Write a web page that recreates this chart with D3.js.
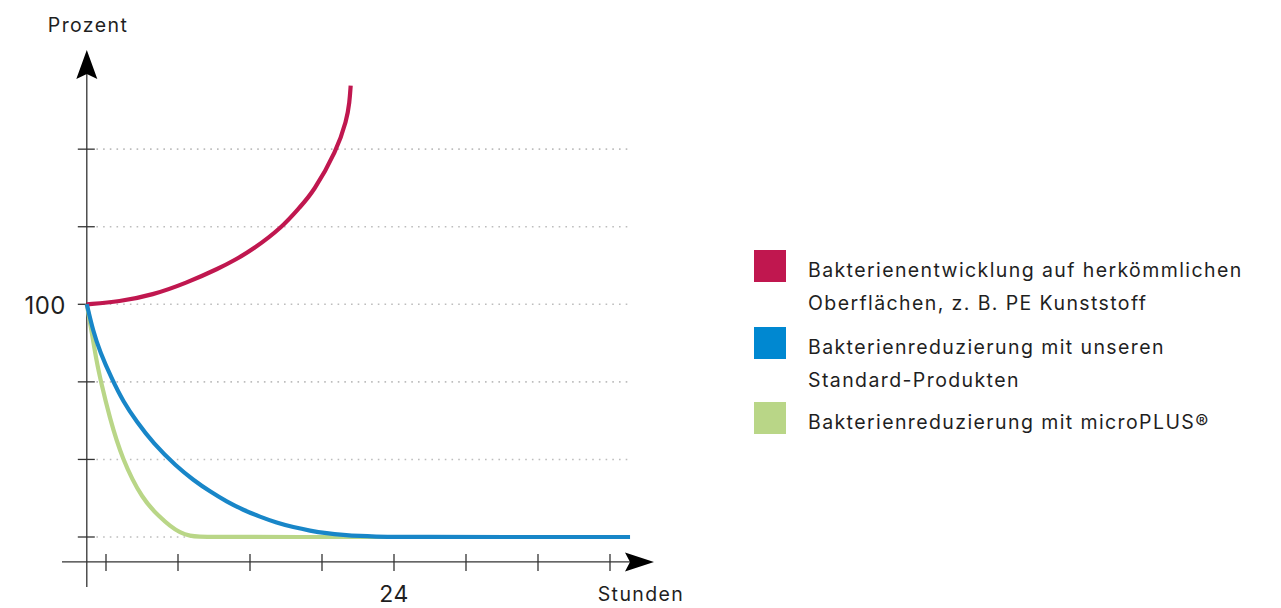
<!DOCTYPE html>
<html>
<head>
<meta charset="utf-8">
<script src="https://cdn.jsdelivr.net/npm/d3@7"></script>
<style>
  body { margin: 0; background: #fff; }
  svg text { font-family: Inter, "Noto Sans", sans-serif; fill: #1f1f1f; letter-spacing: 1.4px; }
</style>
</head>
<body>
<svg id="chart"></svg>
<script>
// hours since start / percent of initial bacteria
var redHours   = [-1.6, 1.11, 3.89, 6.67, 9.44, 10.83, 12.22, 14.67, 16.17, 17.25, 19.22, 20.06, 20.29, 20.39];
var redValues  = [100, 101.1, 104.0, 109.1, 115.5, 119.3, 123.5, 133.0, 141.9, 148.0, 166.0, 179.2, 186.6, 194.0];

var blueHours  = [-1.6, -1.06, -0.5, 0.47, 1.44, 2.56, 3.94, 5.89, 7.28, 8.67, 10.06, 11.44, 12.83, 14.22, 15.61, 17.0, 18.39, 19.78, 21.17, 22.56, 23.67, 43.67];
var blueValues = [100, 88.2, 79.6, 68.1, 58.1, 49.5, 40.2, 30.2, 24.5, 19.5, 15.2, 11.6, 8.7, 6.1, 4.2, 2.7, 1.6, 0.9, 0.4, 0.15, 0, 0];

var greenHours  = [-1.6, -1.17, -0.78, -0.42, 0.28, 1.33, 3.06, 4.5, 5.33, 6.17, 7.0, 7.83, 8.6, 24];
var greenValues = [100, 87.5, 75.3, 66.7, 51.7, 33.6, 15.9, 8.5, 4.7, 1.8, 0.4, 0.1, 0, 0];

var xTicks = [0, 6, 12, 18, 24, 30, 36, 42];
var xTickLabels = {24: "24"};
var yTicks = [0, 33.33, 66.67, 100, 133.33, 166.67];
var yTickLabels = {100: "100"};

var seriesNames = [
  ["Bakterienentwicklung auf herkömmlichen", "Oberflächen, z. B. PE Kunststoff"],
  ["Bakterienreduzierung mit unseren", "Standard-Produkten"],
  ["Bakterienreduzierung mit microPLUS®"]
];
var seriesColors = ["#c0174f", "#1886c8", "#b9d687"];
var legendColors = ["#c0174f", "#0088d1", "#b9d687"];

var WIDTH = 1281, HEIGHT = 608;
var AXIS_T = -1.6, AXIS_P = -10.7;

var svg = d3.select("#chart").attr("width", WIDTH).attr("height", HEIGHT);

var x = d3.scaleLinear().domain([0, 24]).range([106, 394]);
var y = d3.scaleLinear().domain([0, 100]).range([537, 304.3]);

// dotted grid
svg.append("g").selectAll("line")
  .data(yTicks)
  .enter().append("line")
  .attr("x1", x(-0.8)).attr("x2", x(43.67))
  .attr("y1", function(d) { return y(d); })
  .attr("y2", function(d) { return y(d); })
  .attr("stroke", "#bdbdbd")
  .attr("stroke-width", 1.6)
  .attr("stroke-dasharray", "1.6 5.1");

// axes
var ax = svg.append("g").attr("stroke", "#333").attr("stroke-width", 1.3);
ax.append("line")
  .attr("x1", x(AXIS_T)).attr("x2", x(AXIS_T))
  .attr("y1", 587).attr("y2", 72);
ax.append("line")
  .attr("x1", 62).attr("x2", 640)
  .attr("y1", y(AXIS_P)).attr("y2", y(AXIS_P));

ax.selectAll(".yt").data(yTicks).enter().append("line")
  .attr("x1", x(AXIS_T) - 9).attr("x2", x(AXIS_T) + 8)
  .attr("y1", function(d) { return y(d); })
  .attr("y2", function(d) { return y(d); });
ax.selectAll(".xt").data(xTicks).enter().append("line")
  .attr("x1", function(d) { return x(d); })
  .attr("x2", function(d) { return x(d); })
  .attr("y1", y(AXIS_P) - 8).attr("y2", y(AXIS_P) + 9);

// arrow heads
var ax0 = x(AXIS_T), ay0 = y(AXIS_P);
svg.append("path")
  .attr("d", "M" + ax0 + ",50 L" + (ax0 + 10.5) + ",79 L" + ax0 + ",74 L" + (ax0 - 10.5) + ",79 Z")
  .attr("fill", "#000");
svg.append("path")
  .attr("d", "M654," + ay0 + " L625," + (ay0 - 9.5) + " L630," + ay0 + " L625," + (ay0 + 9.5) + " Z")
  .attr("fill", "#000");

// tick labels
svg.selectAll(".ylab").data(yTicks.filter(function(d) { return yTickLabels[d]; }))
  .enter().append("text")
  .attr("x", 66).attr("y", function(d) { return y(d) + 10; })
  .attr("text-anchor", "end")
  .attr("font-size", 24)
  .style("letter-spacing", "0.5px")
  .text(function(d) { return yTickLabels[d]; });
svg.selectAll(".xlab").data(xTicks.filter(function(d) { return xTickLabels[d]; }))
  .enter().append("text")
  .attr("x", function(d) { return x(d); }).attr("y", 602)
  .attr("text-anchor", "middle")
  .attr("font-size", 23)
  .style("letter-spacing", "0.5px")
  .text(function(d) { return xTickLabels[d]; });

svg.append("text").attr("x", 88).attr("y", 32).attr("text-anchor", "middle")
  .attr("font-size", 19.5).text("Prozent");
svg.append("text").attr("x", 641).attr("y", 601).attr("text-anchor", "middle")
  .attr("font-size", 19.5).text("Stunden");

// curves (b-spline through the read-off points, smooths reading noise)
var line = d3.line()
  .x(function(d) { return x(d[0]); })
  .y(function(d) { return y(d[1]); })
  .curve(d3.curveBasis);

var series = [
  d3.zip(greenHours, greenValues),
  d3.zip(redHours, redValues),
  d3.zip(blueHours, blueValues)
];
var order = [2, 0, 1];
svg.append("g").selectAll("path")
  .data(series)
  .enter().append("path")
  .attr("d", line)
  .attr("fill", "none")
  .attr("stroke", function(d, i) { return seriesColors[order[i]]; })
  .attr("stroke-width", 4.2);

// legend
var leg = svg.append("g").selectAll("g")
  .data(seriesNames)
  .enter().append("g")
  .attr("transform", function(d, i) { return "translate(754," + [250, 327, 402][i] + ")"; });
leg.append("rect").attr("width", 32).attr("height", 32)
  .attr("fill", function(d, i) { return legendColors[i]; });
leg.selectAll("text")
  .data(function(d) { return d; })
  .enter().append("text")
  .attr("x", 54)
  .attr("y", function(d, j) { return 27 + j * 33; })
  .attr("font-size", 19.5)
  .text(function(d) { return d; });
</script>
</body>
</html>
